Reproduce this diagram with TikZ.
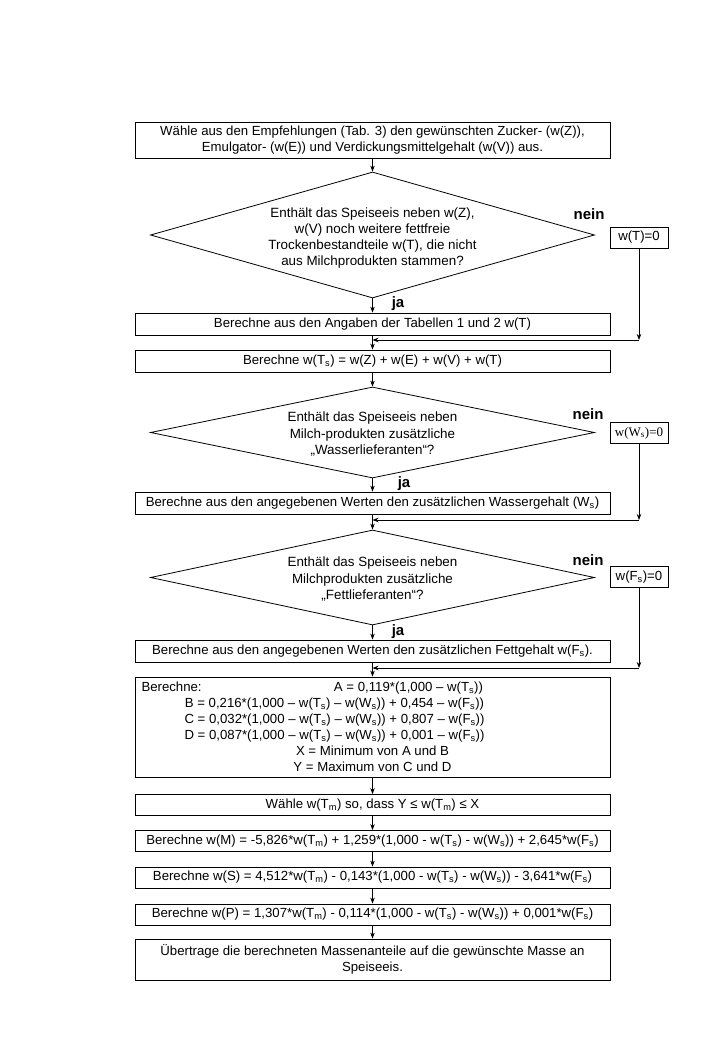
\documentclass[tikz,border=0pt]{standalone}
\usepackage{fontspec}
\setmainfont{Liberation Sans}
\newfontfamily\serifbox{Liberation Serif}
\usetikzlibrary{shapes.geometric,arrows.meta}
\newcommand{\ws}[1]{\textsubscript{#1}}
\begin{document}
\begin{tikzpicture}[x=1pt,y=-1pt,
  font=\fontsize{13.2pt}{15.5pt}\selectfont,
  box/.style={draw,line width=0.8pt,minimum width=475pt,inner sep=2pt,align=center},
  dia/.style={draw,line width=0.8pt,shape=diamond,inner sep=0pt,minimum width=444pt},
  sidebox/.style={draw,line width=0.8pt,minimum width=58pt,minimum height=21pt,inner sep=1pt},
  lab/.style={font=\fontsize{15pt}{18pt}\selectfont\bfseries},
  arr/.style={line width=0.8pt,-{Stealth[length=6pt,width=4.5pt]}},
  ln/.style={line width=0.8pt}]
\fill[white] (0,0) rectangle (720,1040);
\useasboundingbox (0,0) rectangle (720,1040);

% main boxes
\node[box,minimum height=36pt] (b1) at (372.5,140) {Wähle aus den Empfehlungen (Tab. 3) den gewünschten Zucker- (w(Z)),\\Emulgator- (w(E)) und Verdickungsmittelgehalt (w(V)) aus.};
\node[dia,minimum height=126pt] (d1) at (372.5,235) {};
\node[align=center,font=\fontsize{13.4pt}{16pt}\selectfont] (d1t) at (372.5,238) {Enthält das Speiseeis neben w(Z),\\w(V) noch weitere fettfreie\\Trockenbestandteile w(T), die nicht\\aus Milchprodukten stammen?};
\node[box,minimum height=22pt] (b2) at (372.5,324) {Berechne aus den Angaben der Tabellen 1 und 2 w(T)};
\node[box,minimum height=22pt] (b3) at (372.5,361) {Berechne w(T\ws{s}) = w(Z) + w(E) + w(V) + w(T)};
\node[dia,minimum height=91pt] (d2) at (372.5,432.5) {};
\node[align=center,font=\fontsize{13.4pt}{16.5pt}\selectfont] (d2t) at (372.5,434) {Enthält das Speiseeis neben\\Milch-produkten zusätzliche\\„Wasserlieferanten“?};
\node[box,minimum height=22pt] (b4) at (372.5,503) {Berechne aus den angegebenen Werten den zusätzlichen Wassergehalt (W\ws{s})};
\node[dia,minimum height=95pt] (d3) at (372.5,577.5) {};
\node[align=center,font=\fontsize{13.4pt}{16.5pt}\selectfont] (d3t) at (372.5,579) {Enthält das Speiseeis neben\\Milchprodukten zusätzliche\\„Fettlieferanten“?};
\node[box,minimum height=22pt] (b5) at (372.5,651) {Berechne aus den angegebenen Werten den zusätzlichen Fettgehalt w(F\ws{s}).};
\node[box,minimum height=100pt,font=\fontsize{13.2pt}{16pt}\selectfont] (b6) at (372.5,727) {%
\makebox[0pt][l]{Berechne:}\makebox[462pt][c]{\hspace*{72pt}A = 0,119*(1,000 – w(T\ws{s}))}\\
\makebox[462pt][c]{B = 0,216*(1,000 – w(T\ws{s}) – w(W\ws{s})) + 0,454 – w(F\ws{s}))\hspace*{76pt}}\\
\makebox[462pt][c]{C = 0,032*(1,000 – w(T\ws{s}) – w(W\ws{s})) + 0,807 – w(F\ws{s}))\hspace*{76pt}}\\
\makebox[462pt][c]{D = 0,087*(1,000 – w(T\ws{s}) – w(W\ws{s})) + 0,001 – w(F\ws{s}))\hspace*{76pt}}\\
\makebox[462pt][c]{X = Minimum von A und B}\\
\makebox[462pt][c]{Y = Maximum von C und D}};
\node[box,minimum height=21pt] (b7) at (372.5,805) {Wähle w(T\ws{m}) so, dass Y ≤ w(T\ws{m}) ≤ X};
\node[box,minimum height=21pt] (b8) at (372.5,841) {Berechne w(M) = -5,826*w(T\ws{m}) + 1,259*(1,000 - w(T\ws{s}) - w(W\ws{s})) + 2,645*w(F\ws{s})};
\node[box,minimum height=21pt] (b9) at (372.5,877.5) {Berechne w(S) = 4,512*w(T\ws{m}) - 0,143*(1,000 - w(T\ws{s}) - w(W\ws{s})) - 3,641*w(F\ws{s})};
\node[box,minimum height=21pt] (b10) at (372.5,914.5) {Berechne w(P) = 1,307*w(T\ws{m}) - 0,114*(1,000 - w(T\ws{s}) - w(W\ws{s})) + 0,001*w(F\ws{s})};
\node[box,minimum height=41pt] (b11) at (372.5,959.5) {Übertrage die berechneten Massenanteile auf die gewünschte Masse an\\Speiseeis.};

% side boxes
\node[sidebox] (s1) at (639,237.5) {w(T)=0};
\node[sidebox,font=\serifbox\fontsize{13pt}{15pt}\selectfont] (s2) at (639,433) {w(W\ws{s})=0};
\node[sidebox] (s3) at (639,577) {w(F\ws{s})=0};

% labels
\node[lab] (n1) at (589,214) {nein};
\node[lab] (n2) at (588,414) {nein};
\node[lab] (n3) at (588,560) {nein};
\node[lab] (j1) at (398,304) {ja};
\node[lab] (j2) at (404,484) {ja};
\node[lab] (j3) at (398,632) {ja};

% junction coordinates
\coordinate (r1) at (s1.south |- 0,340);
\coordinate (m1) at (372.5,340);
\coordinate (r2) at (s2.south |- 0,520);
\coordinate (m2) at (372.5,520);
\coordinate (r3) at (s3.south |- 0,668);
\coordinate (m3) at (372.5,668);

% main flow
\draw[arr] (b1.south) -- (d1.north);
\draw[arr] (d1.south) -- (b2.north);
\draw[arr] (b2.south) -- (b3.north);
\draw[arr] (b3.south) -- (d2.north);
\draw[arr] (d2.south) -- (b4.north);
\draw[arr] (b4.south) -- (d3.north);
\draw[arr] (d3.south) -- (b5.north);
\draw[arr] (b5.south) -- (b6.north);
\draw[arr] (b6.south) -- (b7.north);
\draw[arr] (b7.south) -- (b8.north);
\draw[arr] (b8.south) -- (b9.north);
\draw[arr] (b9.south) -- (b10.north);
\draw[arr] (b10.south) -- (b11.north);

% side returns
\draw[arr] (s1.south) -- (r1);
\draw[arr] (r1) -- (m1);
\draw[arr] (s2.south) -- (r2);
\draw[arr] (r2) -- (m2);
\draw[arr] (s3.south) -- (r3);
\draw[arr] (r3) -- (m3);
\end{tikzpicture}
\end{document}
